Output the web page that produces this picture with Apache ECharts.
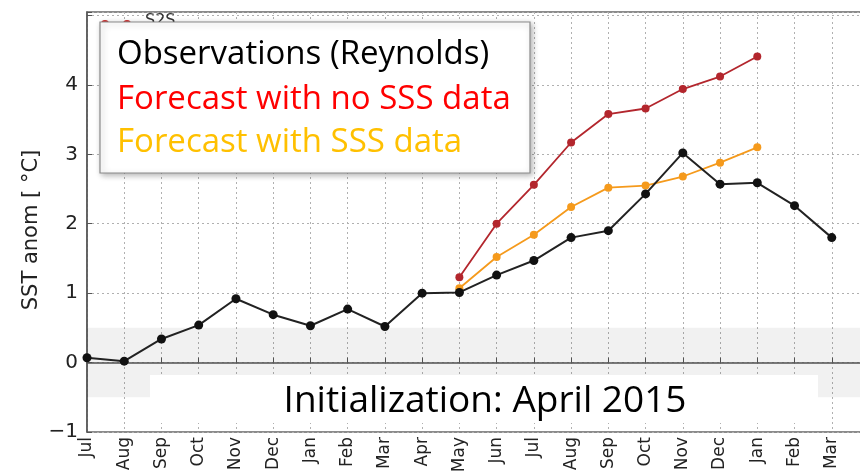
<!DOCTYPE html>
<html><head><meta charset="utf-8">
<script src="https://cdn.jsdelivr.net/npm/echarts@6/dist/echarts.min.js"></script>
<style>html,body{margin:0;padding:0;background:#fff}#c{width:860px;height:474px}</style>
</head><body><div id="c"></div>
<script>
var months = ['Jul','Aug','Sep','Oct','Nov','Dec','Jan','Feb','Mar','Apr','May','Jun','Jul','Aug','Sep','Oct','Nov','Dec','Jan','Feb','Mar','Apr'];
var observations = [0.07,0.02,0.34,0.54,0.92,0.69,0.53,0.77,0.52,1.0,1.01,1.26,1.47,1.80,1.90,2.43,3.02,2.57,2.59,2.26,1.80,null];
var forecastNoSSS = [null,null,null,null,null,null,null,null,null,null,1.23,2.0,2.56,3.17,3.58,3.66,3.94,4.12,4.41,null,null,null];
var forecastSSS = [null,null,null,null,null,null,null,null,null,null,1.07,1.52,1.84,2.24,2.52,2.55,2.68,2.88,3.10,null,null,null];
var yTicks = [-1,0,1,2,3,4];
var yTitle = 'SST anom [ °C]';
var legendLines = ['Observations (Reynolds)','Forecast with no SSS data','Forecast with SSS data'];
var initText = 'Initialization: April 2015';

var chart = echarts.init(document.getElementById('c'));
var gridStyle = {show:true, lineStyle:{color:'#b0b0b0', type:[2,3], width:1}};
chart.setOption({
  animation:false,
  grid:{left:87, top:12, height:420, width:782, outerBoundsMode:'none', containLabel:false, show:true, borderColor:'#666', borderWidth:1.5},
  xAxis:{type:'category', data:months, boundaryGap:false,
    axisLine:{lineStyle:{color:'#555', width:1.5}},
    axisTick:{inside:true, length:5, lineStyle:{color:'#555'}},
    axisLabel:{rotate:90, fontFamily:'DejaVu Sans', fontSize:17, color:'#222', margin:5, interval:0},
    splitLine:gridStyle},
  yAxis:{type:'value', min:-1, max:5.05, interval:1,
    axisLine:{show:true, lineStyle:{color:'#555', width:1.5}},
    axisTick:{show:true, inside:true, length:5, lineStyle:{color:'#555'}},
    axisLabel:{fontFamily:'DejaVu Sans', fontSize:20, color:'#222', margin:9,
      formatter:function(v){ if (yTicks.indexOf(v) < 0) return ''; return v<0 ? '\u2212'+Math.abs(v) : String(v); }},
    splitLine:gridStyle},
  series:[
    {name:'obs', type:'line', data:observations, color:'#111', symbol:'circle', symbolSize:9,
      lineStyle:{width:2, color:'#222'}, itemStyle:{color:'#111'}, z:4,
      markArea:{silent:true, itemStyle:{color:'rgba(0,0,0,0.055)'}, data:[[{yAxis:-0.5},{yAxis:0.5}]]}},
    {name:'nosss', type:'line', data:forecastNoSSS, symbol:'circle', symbolSize:8,
      lineStyle:{width:1.8, color:'#b3262d'}, itemStyle:{color:'#b3262d'}, z:3},
    {name:'sss', type:'line', data:forecastSSS, symbol:'circle', symbolSize:8,
      lineStyle:{width:1.8, color:'#f59a1c'}, itemStyle:{color:'#f59a1c'}, z:3}
  ],
  graphic:[
    {type:'text', x:32, y:230, rotation:Math.PI/2, style:{text:yTitle, font:'21px DejaVu Sans', fill:'#222', align:'center', verticalAlign:'middle'}, z:10},
    {type:'line', shape:{x1:105,y1:24,x2:127,y2:24}, style:{stroke:'#d0302f', lineWidth:1.5}, z:10},
    {type:'circle', shape:{cx:105, cy:24, r:4}, style:{fill:'#d0302f'}, z:10},
    {type:'circle', shape:{cx:127, cy:24, r:4}, style:{fill:'#d0302f'}, z:10},
    {type:'text', left:145, top:13, style:{text:'S2S', font:'16px DejaVu Sans', fill:'#333'}, z:10},
    {type:'rect', shape:{x:100, y:22, width:430, height:151}, style:{fill:'#fff', stroke:'#8a8a8a', lineWidth:1.2, shadowBlur:6, shadowOffsetX:2, shadowOffsetY:2, shadowColor:'rgba(0,0,0,0.3)'}, z:20},
    {type:'text', x:117, y:55, style:{text:legendLines[0], font:'33px "Open Sans"', fill:'#000', verticalAlign:'middle'}, z:21},
    {type:'text', x:117, y:100, style:{text:legendLines[1], font:'33px "Open Sans"', fill:'#ff0000', verticalAlign:'middle'}, z:21},
    {type:'text', x:117, y:143, style:{text:legendLines[2], font:'33px "Open Sans"', fill:'#ffc000', verticalAlign:'middle'}, z:21},
    {type:'rect', shape:{x:150, y:375, width:668, height:48}, style:{fill:'#fff'}, z:20},
    {type:'text', x:485, y:401, style:{text:initText, font:'37px "Open Sans"', fill:'#000', align:'center', verticalAlign:'middle'}, z:21}
  ]
});
</script></body></html>
